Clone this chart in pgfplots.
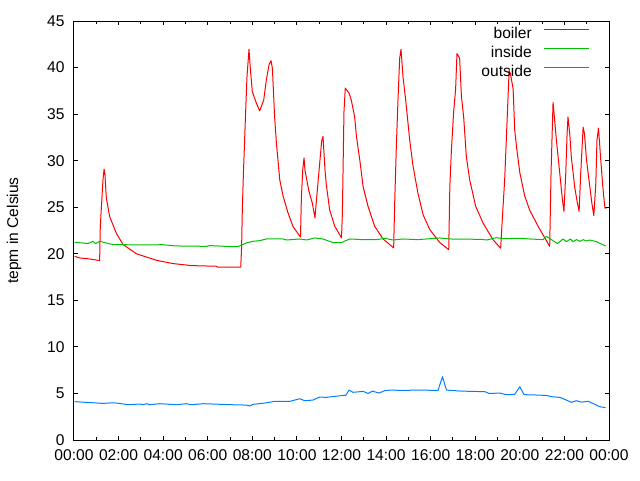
\documentclass[border=0pt]{standalone}
\usepackage{pgfplots}
\pgfplotsset{compat=1.18}
\usepackage{fontspec}
\setmainfont{Liberation Sans}
\definecolor{gpred}{RGB}{255,0,0}
\definecolor{gpgreen}{RGB}{0,192,0}
\definecolor{gpblue}{RGB}{0,128,255}
\begin{document}
\fontsize{11.7pt}{14pt}\selectfont
\begin{tikzpicture}
\path[use as bounding box] (-55.5pt,-30pt) rectangle (424.5pt,330pt);
\begin{axis}[
  at={(0,0)}, anchor=south west,
  scale only axis, width=401.25pt, height=314.25pt,
  xmin=0, xmax=24, ymin=0, ymax=45,
  xtick={0,2,...,24},
  xticklabels={00:00,02:00,04:00,06:00,08:00,10:00,12:00,14:00,16:00,18:00,20:00,22:00,00:00},
  minor x tick num=1,
  ytick={0,5,...,45},
  tick align=inside,
  major tick length=3pt, minor tick length=2pt,
  tick style={black, line width=0.75pt},
  axis line style={black, line width=0.75pt},
  /pgf/number format/assume math mode=true,
  ticklabel style={font=\fontsize{11.7pt}{14pt}\selectfont},
  yticklabel style={xshift=-3pt},
  xticklabel style={yshift=-3pt},
  ylabel={tepm in Celsius},
  every axis y label/.style={at={(axis description cs:-0.112,0.5)}, rotate=90, anchor=center},
  legend plot pos=right,
  legend cell align=right,
  legend style={draw=none, fill=none, at={(axis description cs:0.972,0.995)}, anchor=north east,
    nodes={inner sep=1pt, text height=8.5pt, text depth=2.5pt}, row sep=1.25pt,
    /tikz/every odd column/.append style={column sep=8pt},
    font=\fontsize{11.7pt}{14pt}\selectfont},
  legend image code/.code={\draw[#1] (0pt,3.8pt) -- (33.75pt,3.8pt);},
  every axis plot/.append style={line width=0.75pt},
]
\addplot[gpred, line join=round] coordinates {
(0.03,19.73)(0.26,19.55)(0.70,19.45)(1.15,19.27)(1.18,22.95)(1.24,25.45)(1.30,27.95)(1.35,29.1)(1.39,28.5)
(1.45,26.0)(1.60,24.0)(1.90,22.2)(2.20,21.0)(2.80,20.0)(3.70,19.3)(4.44,18.95)(5.27,18.73)(6.39,18.66)
(6.42,18.58)(7.48,18.58)(7.52,20.8)(7.55,24.6)(7.60,28.67)(7.66,32.6)(7.70,35.27)(7.76,39.0)(7.85,41.96)
(7.91,39.9)(8.0,37.4)(8.18,36.2)(8.33,35.35)(8.51,36.5)(8.63,38.7)(8.75,40.3)(8.84,40.74)(8.90,39.9)
(9.0,34.7)(9.08,31.9)(9.23,27.95)(9.38,26.2)(9.60,24.4)(9.83,22.9)(10.16,21.8)(10.20,26.0)(10.26,29.0)
(10.32,30.3)(10.36,29.0)(10.43,28.1)(10.54,26.7)(10.69,25.45)(10.81,23.85)(10.87,25.6)(10.99,28.85)
(11.11,32.1)(11.17,32.6)(11.26,29.0)(11.32,27.4)(11.47,24.7)(11.70,22.95)(12.0,21.7)(12.04,24.4)
(12.11,35.2)(12.17,37.8)(12.34,37.25)(12.44,36.5)(12.59,34.7)(12.67,32.6)(12.82,30.1)(12.97,27.2)
(13.19,25.1)(13.49,22.95)(13.86,21.6)(14.34,20.63)(14.39,25.8)(14.46,31.5)(14.54,36.9)(14.61,41.0)
(14.67,41.96)(14.76,39.0)(14.88,36.5)(15.06,32.2)(15.21,29.4)(15.43,26.5)(15.66,24.2)(15.96,22.6)
(16.41,21.2)(16.81,20.45)(16.86,27.2)(16.93,31.1)(17.03,35.2)(17.12,37.7)(17.18,41.5)(17.30,41.0)
(17.38,36.9)(17.48,34.7)(17.60,30.45)(17.75,27.95)(18.02,25.1)(18.35,23.3)(18.80,21.5)(19.14,20.6)
(19.22,24.0)(19.32,27.95)(19.43,34.4)(19.52,39.7)(19.58,39.3)(19.70,37.7)(19.77,33.3)(19.85,31.5)
(20.0,28.7)(20.22,26.2)(20.44,24.7)(20.82,22.95)(21.34,20.8)(21.40,28.7)(21.49,36.25)(21.55,34.7)
(21.64,32.2)(21.73,30.1)(21.82,27.95)(21.91,25.8)(21.98,24.55)(22.06,28.65)(22.12,32.9)(22.16,34.7)
(22.24,32.9)(22.31,30.4)(22.46,27.2)(22.57,25.6)(22.66,24.55)(22.73,28.6)(22.84,33.6)(22.90,32.9)
(22.99,30.1)(23.14,27.2)(23.23,25.45)(23.32,24.1)(23.41,27.6)(23.46,32.2)(23.53,33.5)(23.62,30.4)
(23.71,27.6)(23.76,26.2)(23.82,24.9)(23.88,24.9)
};
\addlegendentry{boiler}
\addplot[gpgreen, line join=round] coordinates {
(0.03,21.23)(0.40,21.16)(0.63,21.09)(0.85,21.34)(0.97,21.09)(1.15,21.34)(1.45,21.16)(1.75,20.98)
(3.77,20.95)(3.84,21.0)(4.59,20.84)(5.94,20.8)(6.09,20.88)(7.06,20.77)(7.36,20.77)(7.73,21.16)
(8.03,21.34)(8.33,21.41)(8.63,21.59)(9.38,21.59)(9.53,21.48)(10.13,21.59)(10.43,21.48)(10.80,21.7)
(11.17,21.59)(11.62,21.2)(11.99,21.2)(12.37,21.59)(12.97,21.52)(13.57,21.52)(13.94,21.66)(14.31,21.48)
(14.76,21.59)(15.43,21.52)(16.41,21.7)(16.86,21.59)(18.28,21.55)(18.51,21.48)(18.96,21.73)(19.25,21.62)
(20.0,21.66)(20.45,21.59)(21.04,21.52)(21.19,21.87)(21.42,21.52)(21.69,21.09)(21.94,21.59)(22.09,21.3)
(22.27,21.59)(22.39,21.3)(22.54,21.52)(22.69,21.34)(22.84,21.52)(22.99,21.37)(23.13,21.48)(23.44,21.3)
(23.66,21.05)(23.85,20.84)
};
\addlegendentry{inside}
\addplot[gpblue, line join=round] coordinates {
(0.03,4.12)(0.85,4.0)(1.30,3.93)(1.75,4.0)(2.05,3.93)(2.42,3.79)(2.95,3.86)(3.10,3.79)(3.25,3.9)
(3.40,3.79)(3.84,3.9)(4.59,3.79)(5.04,3.9)(5.27,3.79)(5.79,3.9)(7.06,3.79)(7.73,3.75)(7.88,3.65)
(8.03,3.83)(8.56,3.97)(9.0,4.15)(9.68,4.15)(10.13,4.43)(10.35,4.22)(10.72,4.29)(11.02,4.61)(11.32,4.58)
(12.07,4.79)(12.19,4.79)(12.34,5.36)(12.52,5.12)(12.97,5.22)(13.19,5.0)(13.39,5.25)(13.68,5.04)
(13.94,5.3)(14.16,5.36)(14.76,5.33)(15.43,5.36)(16.33,5.33)(16.53,6.8)(16.71,5.36)(17.38,5.25)
(18.43,5.19)(18.62,5.0)(19.10,5.04)(19.40,4.87)(19.77,4.9)(20.0,5.72)(20.19,4.87)(20.74,4.83)
(21.19,4.79)(21.42,4.65)(21.79,4.58)(22.09,4.29)(22.31,4.04)(22.54,4.22)(22.76,4.07)(23.06,4.15)
(23.28,3.93)(23.58,3.58)(23.85,3.47)
};
\addlegendentry{outside}
\end{axis}
\end{tikzpicture}
\end{document}
